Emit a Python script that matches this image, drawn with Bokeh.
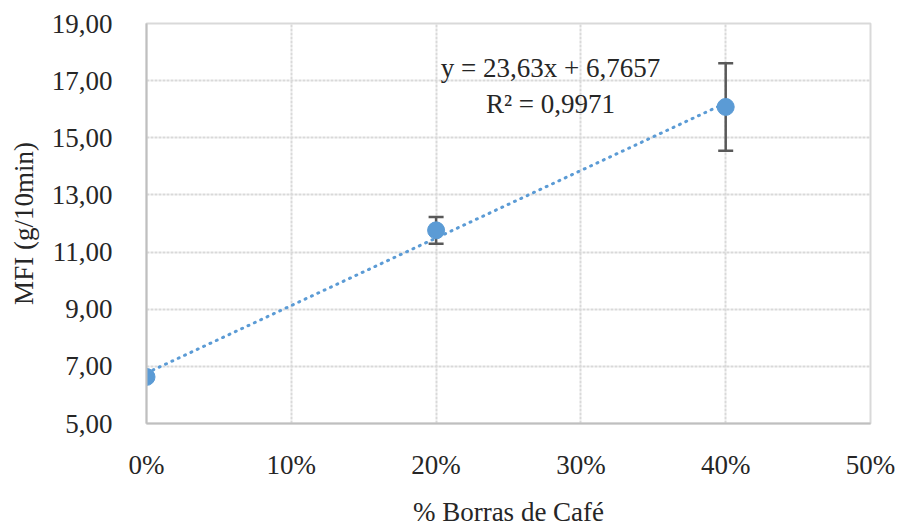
from bokeh.plotting import figure
from bokeh.models import (ColumnDataSource, Whisker, Label, NumeralTickFormatter,
                          CustomJSTickFormatter, Range1d, FixedTicker)
from bokeh.embed import file_html
from bokeh.resources import INLINE

# Coffee-grounds content (fraction) and melt flow index measurements
borras = [0.0, 0.20, 0.40]
mfi = [6.63, 11.76, 16.08]
mfi_err = [0.0, 0.47, 1.53]

# Linear trend reported on the chart
slope = 23.63
intercept = 6.7657
r2 = 0.9971
trend_x = [0.0, 0.40]

x_ticks = [0.0, 0.1, 0.2, 0.3, 0.4, 0.5]
y_ticks = [5, 7, 9, 11, 13, 15, 17, 19]

FONT = "Liberation Serif"
BLUE = "#5b9bd5"
TXT = "#262626"

p = figure(width=899, height=529, output_backend="svg", toolbar_location=None,
           x_range=Range1d(0, 0.5), y_range=Range1d(5, 19),
           min_border_left=146, min_border_right=29,
           min_border_top=23, min_border_bottom=105)

p.background_fill_color = "white"
p.border_fill_color = "white"
p.outline_line_color = "#d9d9d9"
p.outline_line_width = 2

for g in (p.xgrid, p.ygrid):
    g.grid_line_color = "#d9d9d9"
    g.grid_line_width = 2
    g.grid_line_dash = "3 1"
p.xgrid.ticker = FixedTicker(ticks=x_ticks)
p.ygrid.ticker = FixedTicker(ticks=y_ticks)

p.xaxis.ticker = FixedTicker(ticks=x_ticks)
p.yaxis.ticker = FixedTicker(ticks=y_ticks)
p.xaxis.formatter = NumeralTickFormatter(format="0%")
p.yaxis.formatter = CustomJSTickFormatter(code="return tick.toFixed(2).replace('.', ',');")

for ax in (p.xaxis, p.yaxis):
    ax.axis_line_color = "#bfbfbf"
    ax.axis_line_width = 2
    ax.major_tick_line_color = None
    ax.minor_tick_line_color = None
    ax.major_label_text_font = FONT
    ax.major_label_text_font_size = "27px"
    ax.major_label_text_color = TXT
    ax.axis_label_text_font = FONT
    ax.axis_label_text_font_size = "27px"
    ax.axis_label_text_font_style = "normal"
    ax.axis_label_text_color = TXT

p.xaxis.axis_label = "% Borras de Café"
p.yaxis.axis_label = "MFI (g/10min)"
p.xaxis.major_label_standoff = 20
p.yaxis.major_label_standoff = 28
p.xaxis.axis_label_standoff = 14
p.yaxis.axis_label_standoff = 10

# Dotted linear trend line
trend_y = [slope * x + intercept for x in trend_x]
p.line(trend_x, trend_y, line_color=BLUE, line_width=3, line_dash="1 6", line_cap="round")

# Error bars (only where a deviation was measured)
pts = [(x, y, e) for x, y, e in zip(borras, mfi, mfi_err) if e > 0]
err_src = ColumnDataSource(dict(
    x=[t[0] for t in pts],
    upper=[t[1] + t[2] for t in pts],
    lower=[t[1] - t[2] for t in pts],
))
w = Whisker(base="x", upper="upper", lower="lower", source=err_src,
            line_color="#595959", line_width=2.5)
for head in (w.upper_head, w.lower_head):
    head.size = 15
    head.line_color = "#595959"
    head.line_width = 2.5
p.add_layout(w)

src = ColumnDataSource(dict(x=borras, y=mfi))
p.scatter("x", "y", source=src, size=17, fill_color=BLUE, line_color=BLUE)

eq = Label(x=0.279, y=17.46, text=f"y = {slope:.2f}x + {intercept:.4f}".replace(".", ","),
           text_font=FONT, text_font_size="27px", text_color=TXT,
           text_align="center", text_baseline="middle")
r2lab = Label(x=0.279, y=16.17, text=f"R² = {r2:.4f}".replace(".", ","),
              text_font=FONT, text_font_size="27px", text_color=TXT,
              text_align="center", text_baseline="middle")
p.add_layout(eq)
p.add_layout(r2lab)

open("out.html", "w").write(file_html(p, INLINE))
